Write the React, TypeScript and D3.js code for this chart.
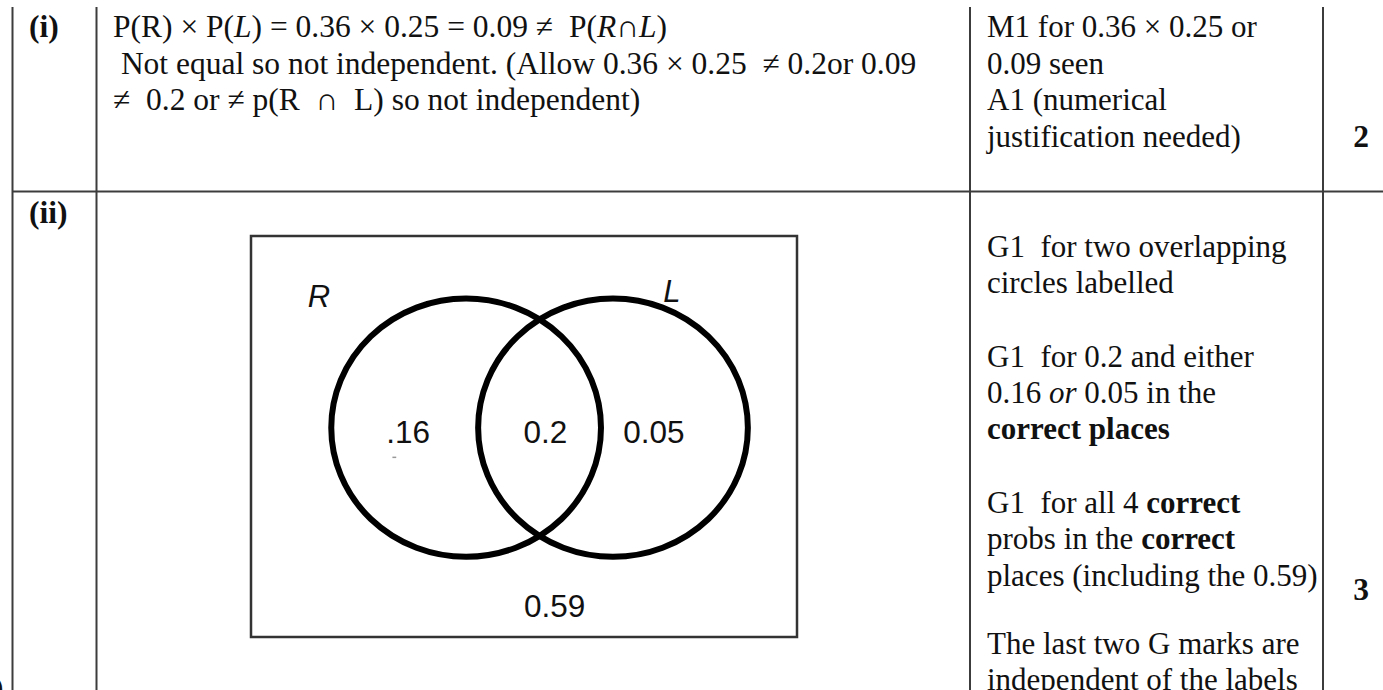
import { useEffect, useRef } from 'react';
import * as d3 from 'd3';

type Seg = { t: string; i?: boolean; b?: boolean };

// mark scheme content
const partLabels = ['(i)', '(ii)'];
const markTotals = ['2', '3'];

const workingI: Seg[][] = [
  [
    { t: 'P(R) × P(' },
    { t: 'L', i: true },
    { t: ') = 0.36 × 0.25 = 0.09 ≠  P(' },
    { t: 'R', i: true },
    { t: '∩' },
    { t: 'L', i: true },
    { t: ')' },
  ],
  [{ t: ' Not equal so not independent. (Allow 0.36 × 0.25  ≠ 0.2or 0.09' }],
  [{ t: '≠  0.2 or ≠ p(R  ∩  L) so not independent)' }],
];

const guidanceI: Seg[][] = [
  [{ t: 'M1 for 0.36 × 0.25 or' }],
  [{ t: '0.09 seen' }],
  [{ t: 'A1 (numerical' }],
  [{ t: 'justification needed)' }],
];

const guidanceII: Seg[][][] = [
  [[{ t: 'G1  for two overlapping' }], [{ t: 'circles labelled' }]],
  [
    [{ t: 'G1  for 0.2 and either' }],
    [{ t: '0.16 ' }, { t: 'or', i: true }, { t: ' 0.05 in the' }],
    [{ t: 'correct places', b: true }],
  ],
  [
    [{ t: 'G1  for all 4 ' }, { t: 'correct', b: true }],
    [{ t: 'probs in the ' }, { t: 'correct', b: true }],
    [{ t: 'places (including the 0.59)' }],
  ],
  [[{ t: 'The last two G marks are' }], [{ t: 'independent of the labels' }]],
];

// Venn diagram: sets and region probabilities
const vennSets = ['R', 'L'];
const regionNames = ['R only', 'R and L', 'L only', 'neither'];
const regionValues = ['.16', '0.2', '0.05', '0.59'];

const SERIF = '"Liberation Serif", "Times New Roman", serif';
const SANS = '"Liberation Sans", Arial, sans-serif';
const FS = 31.5;
const FS_GUIDE = 31;

export default function App() {
  const svgRef = useRef<SVGSVGElement>(null);
  const width = 1383;
  const height = 690;

  useEffect(() => {
    if (!svgRef.current) return;
    const svg = d3.select(svgRef.current);
    svg.selectAll('*').remove();

    const colX = [12.5, 96.5, 970, 1323];
    const rowY = 191.5;
    const lineColor = '#3c3c3c';

    // table grid
    const grid = svg.append('g').attr('stroke', lineColor).attr('stroke-width', 2);
    colX.forEach((x) => {
      grid.append('line').attr('x1', x).attr('x2', x).attr('y1', 7).attr('y2', height);
    });
    grid.append('line').attr('x1', colX[0]).attr('x2', width).attr('y1', rowY).attr('y2', rowY);

    const writeLine = (x: number, y: number, segs: Seg[], size = FS) => {
      const t = svg
        .append('text')
        .attr('x', x)
        .attr('y', y)
        .attr('font-family', SERIF)
        .attr('font-size', size)
        .attr('fill', '#111')
        .style('white-space', 'pre');
      segs.forEach((s) => {
        t.append('tspan')
          .attr('font-style', s.i ? 'italic' : 'normal')
          .attr('font-weight', s.b ? 'bold' : 'normal')
          .text(s.t);
      });
    };

    // part labels and totals
    const partY = [37, 223];
    partLabels.forEach((p, k) => {
      svg
        .append('text')
        .attr('x', 29)
        .attr('y', partY[k])
        .attr('font-family', SERIF)
        .attr('font-size', FS)
        .attr('font-weight', 'bold')
        .attr('fill', '#111')
        .text(p);
    });
    const markY = [147, 600];
    markTotals.forEach((m, k) => {
      svg
        .append('text')
        .attr('x', 1361)
        .attr('y', markY[k])
        .attr('text-anchor', 'middle')
        .attr('font-family', SERIF)
        .attr('font-size', FS)
        .attr('font-weight', 'bold')
        .attr('fill', '#111')
        .text(m);
    });

    // part (i)
    workingI.forEach((segs, k) => writeLine(113, 37 + k * 36.5, segs));
    guidanceI.forEach((segs, k) => writeLine(987, 37 + k * 36.7, segs, FS_GUIDE));

    // part (ii) guidance paragraphs
    const paraStart = [257, 366.5, 513, 654];
    guidanceII.forEach((para, p) => {
      para.forEach((segs, k) => writeLine(987, paraStart[p] + k * 36.3, segs, FS_GUIDE));
    });

    // stray glyph on the left page edge
    svg
      .append('text')
      .attr('x', -7)
      .attr('y', 698)
      .attr('font-family', SERIF)
      .attr('font-size', FS)
      .attr('fill', '#111')
      .text(')');

    // Venn diagram in unit coordinates of the sample-space box
    const vx = d3.scaleLinear().domain([0, 1]).range([251, 797]);
    const vy = d3.scaleLinear().domain([0, 1]).range([236, 637]);

    svg
      .append('rect')
      .attr('x', vx(0))
      .attr('y', vy(0))
      .attr('width', vx(1) - vx(0))
      .attr('height', vy(1) - vy(0))
      .attr('fill', 'none')
      .attr('stroke', '#333')
      .attr('stroke-width', 2.5);

    const setCentre: Record<string, [number, number]> = { R: [0.394, 0.478], L: [0.663, 0.478] };
    const rx = 0.247;
    const ry = 0.322;

    svg
      .append('g')
      .selectAll('ellipse')
      .data(vennSets)
      .join('ellipse')
      .attr('cx', (d) => vx(setCentre[d][0]))
      .attr('cy', (d) => vy(setCentre[d][1]))
      .attr('rx', vx(rx) - vx(0))
      .attr('ry', vy(ry) - vy(0))
      .attr('fill', 'none')
      .attr('stroke', '#000')
      .attr('stroke-width', 6);

    const setLabelPos: Record<string, [number, number]> = { R: [0.104, 0.177], L: [0.755, 0.165] };
    svg
      .append('g')
      .selectAll('text')
      .data(vennSets)
      .join('text')
      .attr('x', (d) => vx(setLabelPos[d][0]))
      .attr('y', (d) => vy(setLabelPos[d][1]))
      .attr('font-family', SANS)
      .attr('font-size', 31)
      .attr('font-style', 'italic')
      .attr('fill', '#111')
      .text((d) => d);

    const regionPos: Record<string, [number, number]> = {
      'R only': [0.288, 0.516],
      'R and L': [0.539, 0.516],
      'L only': [0.738, 0.516],
      neither: [0.556, 0.95],
    };
    svg
      .append('g')
      .selectAll('text')
      .data(regionNames)
      .join('text')
      .attr('x', (d) => vx(regionPos[d][0]))
      .attr('y', (d) => vy(regionPos[d][1]))
      .attr('text-anchor', 'middle')
      .attr('font-family', SANS)
      .attr('font-size', 31.5)
      .attr('fill', '#111')
      .text((d, k) => regionValues[k]);

    // faint scan mark under .16
    svg
      .append('line')
      .attr('x1', vx(0.259))
      .attr('x2', vx(0.266))
      .attr('y1', vy(0.552))
      .attr('y2', vy(0.552))
      .attr('stroke', '#999')
      .attr('stroke-width', 1.5);
  }, []);

  return (
    <svg
      ref={svgRef}
      width={width}
      height={height}
      style={{ position: 'absolute', left: 0, top: 0, display: 'block', background: '#fff' }}
    />
  );
}
